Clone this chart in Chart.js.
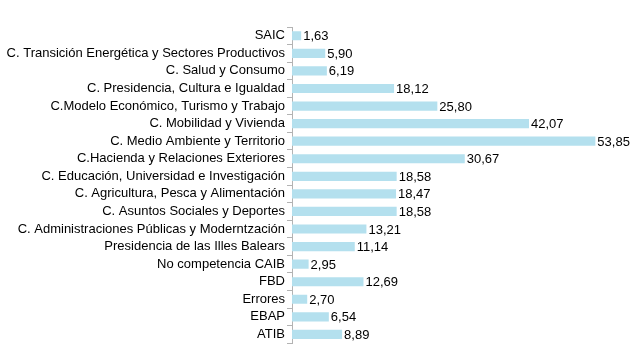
<!DOCTYPE html>
<html>
<head>
<meta charset="utf-8">
<script src="https://cdn.jsdelivr.net/npm/chart.js@4"></script>
<style>
html,body{margin:0;padding:0;background:#fff;}
#wrap{width:641px;height:353px;position:relative;}
</style>
</head>
<body>
<div id="wrap"><canvas id="c" width="641" height="353"></canvas></div>
<script>
const categories = [
  "SAIC",
  "C. Transición Energética y Sectores Productivos",
  "C. Salud y Consumo",
  "C. Presidencia, Cultura e Igualdad",
  "C.Modelo Económico, Turismo y Trabajo",
  "C. Mobilidad y Vivienda",
  "C. Medio Ambiente y Territorio",
  "C.Hacienda y Relaciones Exteriores",
  "C. Educación, Universidad e Investigación",
  "C. Agricultura, Pesca y Alimentación",
  "C. Asuntos Sociales y Deportes",
  "C. Administraciones Públicas y Moderntzación",
  "Presidencia de las Illes Balears",
  "No competencia CAIB",
  "FBD",
  "Errores",
  "EBAP",
  "ATIB"
];
const values = [1.63, 5.90, 6.19, 18.12, 25.80, 42.07, 53.85, 30.67, 18.58, 18.47, 18.58, 13.21, 11.14, 2.95, 12.69, 2.70, 6.54, 8.89];

const FONT = "'Liberation Sans', Arial, sans-serif";

const valueLabels = {
  id: 'valueLabels',
  afterDatasetsDraw(chart) {
    const ctx = chart.ctx;
    const meta = chart.getDatasetMeta(0);
    ctx.save();
    ctx.font = "13px " + FONT;
    ctx.fillStyle = "#000";
    ctx.textAlign = "left";
    ctx.textBaseline = "middle";
    meta.data.forEach((bar, i) => {
      const txt = values[i].toFixed(2).replace('.', ',');
      ctx.fillText(txt, bar.x + 2, bar.y + 1);
    });
    ctx.restore();
  }
};

new Chart(document.getElementById('c'), {
  type: 'bar',
  data: {
    labels: categories,
    datasets: [{
      data: values,
      backgroundColor: '#b4e0ee',
      borderWidth: 0,
      barPercentage: 0.58,
      categoryPercentage: 0.9
    }]
  },
  options: {
    indexAxis: 'y',
    responsive: false,
    animation: false,
    layout: { padding: { top: 27, bottom: 9, left: 0, right: 11 } },
    plugins: { legend: { display: false }, tooltip: { enabled: false } },
    scales: {
      x: {
        display: false,
        min: 0,
        max: 60
      },
      y: {
        afterFit(scale) { scale.width = 292; },
        grid: {
          offset: true,
          drawOnChartArea: false,
          drawTicks: true,
          tickLength: 5,
          color: '#b3b3b3'
        },
        border: { display: true, color: '#b3b3b3', width: 1 },
        ticks: {
          color: '#000',
          padding: 2,
          font: { size: 13, family: FONT },
          autoSkip: false
        }
      }
    }
  },
  plugins: [valueLabels]
});
</script>
</body>
</html>
